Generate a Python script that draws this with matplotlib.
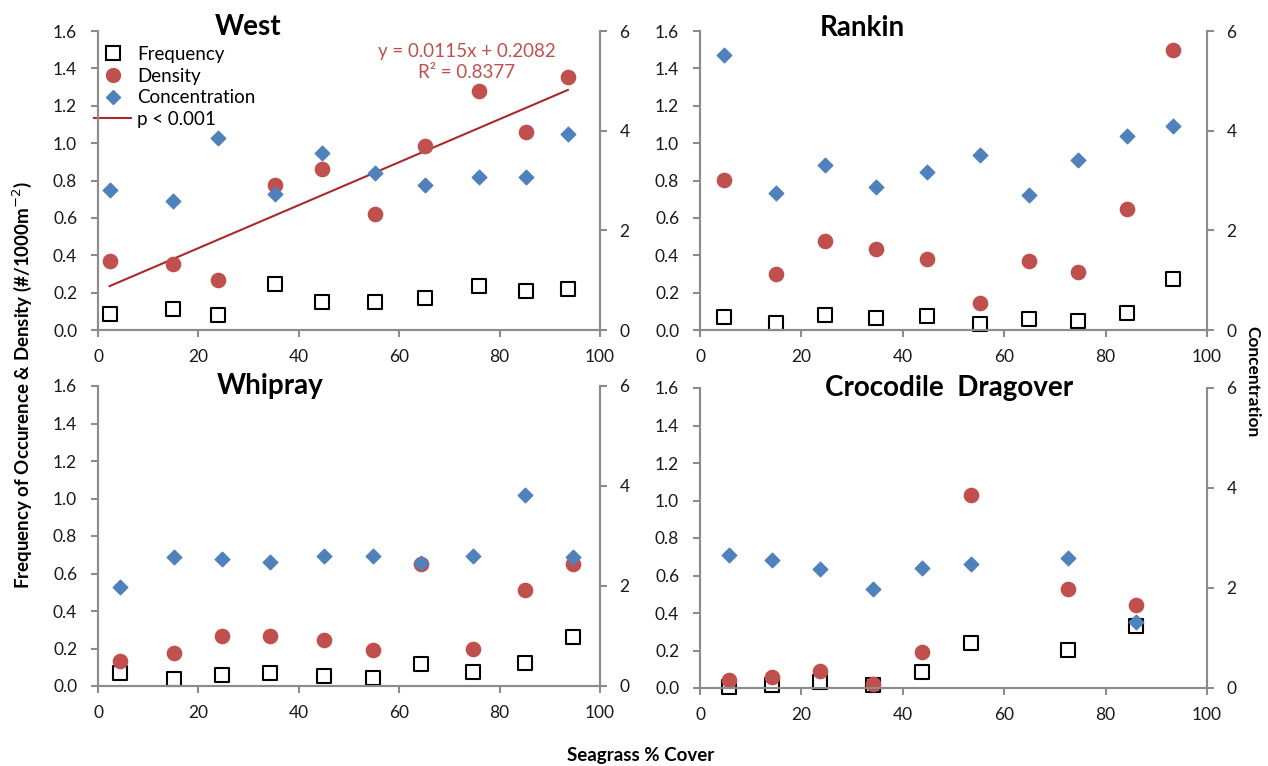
import numpy as np
import matplotlib.pyplot as plt
from matplotlib.lines import Line2D

plt.rcParams['font.family'] = ['Lato', 'DejaVu Sans']

# Data (x = seagrass % cover)
west_cover = [2.3, 15.0, 24.0, 35.2, 44.6, 55.2, 65.2, 75.8, 85.2, 93.6]
west_freq = [0.085, 0.11, 0.08, 0.248, 0.148, 0.148, 0.173, 0.235, 0.21, 0.218]
west_dens = [0.369, 0.353, 0.268, 0.776, 0.86, 0.622, 0.984, 1.279, 1.061, 1.355]
west_conc = [2.81, 2.58, 3.86, 2.72, 3.56, 3.16, 2.90, 3.07, 3.07, 3.94]
west_slope, west_icpt, west_r2 = 0.0115, 0.2082, 0.8377

rankin_cover = [4.7, 14.9, 24.6, 34.8, 44.8, 55.3, 64.8, 74.6, 84.3, 93.2]
rankin_freq = [0.072, 0.039, 0.081, 0.063, 0.075, 0.032, 0.057, 0.05, 0.09, 0.274]
rankin_dens = [0.803, 0.301, 0.478, 0.432, 0.378, 0.147, 0.371, 0.308, 0.649, 1.5]
rankin_conc = [5.52, 2.74, 3.31, 2.86, 3.17, 3.52, 2.71, 3.41, 3.90, 4.10]

whip_cover = [4.4, 15.1, 24.8, 34.2, 45.0, 54.8, 64.4, 74.7, 85.1, 94.7]
whip_freq = [0.067, 0.036, 0.06, 0.067, 0.055, 0.045, 0.118, 0.076, 0.124, 0.26]
whip_dens = [0.136, 0.176, 0.269, 0.269, 0.245, 0.191, 0.651, 0.2, 0.513, 0.651]
whip_conc = [1.99, 2.58, 2.55, 2.49, 2.61, 2.61, 2.47, 2.61, 3.82, 2.58]

croc_cover = [5.7, 14.2, 23.6, 34.2, 43.7, 53.5, 72.6, 86.0]
croc_freq = [0.003, 0.015, 0.033, 0.015, 0.085, 0.242, 0.202, 0.333]
croc_dens = [0.042, 0.058, 0.091, 0.024, 0.191, 1.031, 0.527, 0.442]
croc_conc = [2.67, 2.56, 2.38, 1.99, 2.40, 2.49, 2.61, 1.33]

red = '#C0504D'
blue = '#4F81BD'
trend_col = '#A82A2A'
grey = '#8C8C8C'

W, H = 1268, 766
fig = plt.figure(figsize=(W / 100, H / 100), dpi=100)


def make_axes(l, r, t, b):
    return fig.add_axes([l / W, 1 - b / H, (r - l) / W, (b - t) / H])


def panel(ax, cover, freq, dens, conc, title, tx, ty):
    ax.scatter(cover, freq, marker='s', s=95, facecolor='white', edgecolor='black',
               linewidth=1.5, zorder=3, clip_on=False)
    ax.scatter(cover, dens, marker='o', s=105, color=red, zorder=4, clip_on=False)
    ax.set_xlim(0, 100)
    ax.set_ylim(0, 1.6)
    ax.set_xticks(np.arange(0, 101, 20))
    ax.set_yticks(np.arange(0, 1.61, 0.2))
    ax.set_yticklabels([f'{v:.1f}' for v in np.arange(0, 1.61, 0.2)])
    ax2 = ax.twinx()
    ax2.scatter(cover, conc, marker='D', s=55, color=blue, zorder=5, clip_on=False)
    ax2.set_ylim(0, 6)
    ax2.set_yticks([0, 2, 4, 6])
    for a in (ax, ax2):
        a.spines['top'].set_visible(False)
        for s in ('left', 'right', 'bottom'):
            a.spines[s].set_color(grey)
            a.spines[s].set_linewidth(1.5)
        a.tick_params(colors=grey, labelcolor='#1a1a1a', labelsize=12.5, width=1.5, length=5)
    ax.tick_params(axis='y', pad=10)
    ax.tick_params(axis='x', pad=9)
    ax2.tick_params(axis='y', pad=9)
    ax.text(tx, ty, title, transform=ax.transAxes, ha='center', va='center',
            fontsize=20, fontweight='bold')
    return ax2


ax1 = make_axes(98, 600, 31, 330)
ax2 = make_axes(700, 1207, 31, 330)
ax3 = make_axes(98, 600, 386, 686)
ax4 = make_axes(700, 1207, 388, 688)

panel(ax1, west_cover, west_freq, west_dens, west_conc, 'West', 0.299, 1.015)
panel(ax2, rankin_cover, rankin_freq, rankin_dens, rankin_conc, 'Rankin', 0.32, 1.01)
panel(ax3, whip_cover, whip_freq, whip_dens, whip_conc, 'Whipray', 0.343, 1.0)
panel(ax4, croc_cover, croc_freq, croc_dens, croc_conc, 'Crocodile  Dragover', 0.491, 1.0)

# trend line for West
tx = np.array([min(west_cover), max(west_cover)])
ax1.plot(tx, west_slope * tx + west_icpt, color=trend_col, lw=1.5, zorder=2)
ax1.text(0.735, (330 - 62) / 299, f'y = {west_slope}x + {west_icpt}\nR\u00b2 = {west_r2}',
         transform=ax1.transAxes, ha='center', va='center', color=red,
         fontsize=13.5, linespacing=1.25)

handles = [
    Line2D([], [], marker='s', ls='none', mfc='white', mec='black', mew=1.5, ms=9.5),
    Line2D([], [], marker='o', ls='none', color=red, ms=10),
    Line2D([], [], marker='D', ls='none', color=blue, ms=7),
    Line2D([], [], color=trend_col, lw=1.5),
]
ax1.legend(handles, ['Frequency', 'Density', 'Concentration', 'p < 0.001'],
           loc='upper left', bbox_to_anchor=(-0.008, 0.95), frameon=False,
           fontsize=13.5, borderpad=0, borderaxespad=0, handlelength=2.0,
           handletextpad=0.3, labelspacing=0.25)

fig.text(22 / W, 1 - 385 / H, 'Frequency of Occurence & Density (#/1000m$^{-2}$)',
         rotation=90, ha='center', va='center', fontsize=13.5, fontweight='bold')
fig.text(1252 / W, 1 - 382 / H, 'Concentration', rotation=270,
         ha='center', va='center', fontsize=12.5, fontweight='bold')
fig.text(641 / W, 1 - 755 / H, 'Seagrass % Cover', ha='center', va='center',
         fontsize=13.5, fontweight='bold')

fig.savefig('out.png', dpi=100, facecolor='white')
